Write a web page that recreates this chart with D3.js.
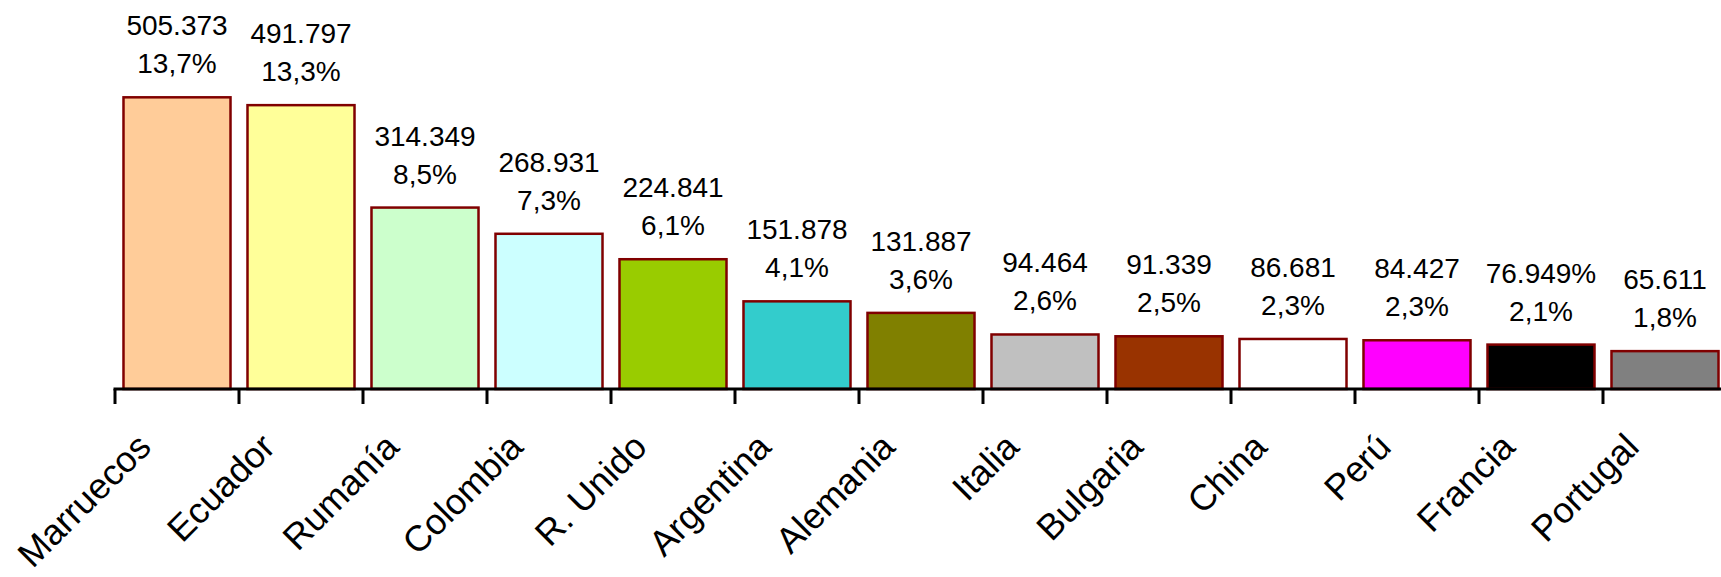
<!DOCTYPE html>
<html>
<head>
<meta charset="utf-8">
<script src="https://cdn.jsdelivr.net/npm/d3@7"></script>
<style>
  html, body { margin: 0; padding: 0; background: #fff; overflow: hidden; }
  svg { display: block; }
  text { font-family: "Liberation Sans", Arial, sans-serif; fill: #000; }
</style>
</head>
<body>
<svg id="chart" width="1721" height="577"></svg>
<script>
const categories = ["Marruecos", "Ecuador", "Rumanía", "Colombia", "R. Unido", "Argentina", "Alemania", "Italia", "Bulgaria", "China", "Perú", "Francia", "Portugal"];
const values = [505373, 491797, 314349, 268931, 224841, 151878, 131887, 94464, 91339, 86681, 84427, 76949, 65611];
const valueLabels = ["505.373", "491.797", "314.349", "268.931", "224.841", "151.878", "131.887", "94.464", "91.339", "86.681", "84.427", "76.949%", "65.611"];
const percentLabels = ["13,7%", "13,3%", "8,5%", "7,3%", "6,1%", "4,1%", "3,6%", "2,6%", "2,5%", "2,3%", "2,3%", "2,1%", "1,8%"];
const colors = ["#FFCC99", "#FFFF99", "#CCFFCC", "#CCFFFF", "#99CC00", "#33CCCC", "#808000", "#C0C0C0", "#993300", "#FFFFFF", "#FF00FF", "#000000", "#808080"];

const svg = d3.select("#chart");
const x0 = 115, step = 124;
const baseY = 389;

const slot = d3.scaleBand().domain(categories).range([x0, x0 + step * categories.length]).padding(0);
const x = d3.scaleBand().domain(categories).range([x0, x0 + step * categories.length])
  .paddingInner(0.137).paddingOuter(0.0685);
const y = d3.scaleLinear().domain([0, 600000]).range([baseY, baseY - 346.3]);

const data = categories.map((c, i) => ({ c, v: values[i], vl: valueLabels[i], pl: percentLabels[i], col: colors[i] }));

// bars
svg.append("g").selectAll("rect").data(data).join("rect")
  .attr("x", d => x(d.c))
  .attr("y", d => y(d.v))
  .attr("width", x.bandwidth())
  .attr("height", d => baseY - y(d.v))
  .attr("fill", d => d.col)
  .attr("stroke", "#800000")
  .attr("stroke-width", 2.5);

// value labels
const lab = svg.append("g").selectAll("g").data(data).join("g");
lab.append("text")
  .attr("x", d => x(d.c) + x.bandwidth() / 2)
  .attr("y", d => y(d.v) - 62)
  .attr("text-anchor", "middle")
  .attr("font-size", 28)
  .text(d => d.vl);
lab.append("text")
  .attr("x", d => x(d.c) + x.bandwidth() / 2)
  .attr("y", d => y(d.v) - 24)
  .attr("text-anchor", "middle")
  .attr("font-size", 28)
  .text(d => d.pl);

// axis line and ticks at category boundaries
const axis = svg.append("g");
axis.append("line")
  .attr("x1", slot(categories[0]) - 1.5).attr("x2", 1721)
  .attr("y1", baseY).attr("y2", baseY)
  .attr("stroke", "#000").attr("stroke-width", 3);
axis.selectAll("line.tick").data(categories).join("line")
  .attr("class", "tick")
  .attr("x1", d => slot(d)).attr("x2", d => slot(d))
  .attr("y1", baseY).attr("y2", baseY + 15)
  .attr("stroke", "#000").attr("stroke-width", 3);

// category labels
axis.selectAll("text").data(categories).join("text")
  .attr("transform", d => `translate(${slot(d) + slot.bandwidth() / 2 - 24},${449}) rotate(-45)`)
  .attr("text-anchor", "end")
  .attr("font-size", 36)
  .text(d => d);
</script>
</body>
</html>
